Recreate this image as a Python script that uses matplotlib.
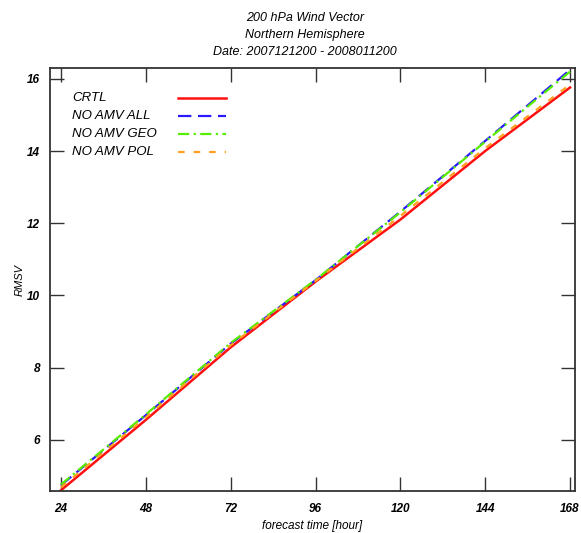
import matplotlib
matplotlib.use("Agg")
import matplotlib.pyplot as plt
from matplotlib.lines import Line2D

hours = [24, 48, 72, 96, 120, 144, 168]
crtl = [4.60, 6.55, 8.56, 10.38, 12.10, 14.00, 15.76]
no_amv_all = [4.74, 6.68, 8.66, 10.42, 12.32, 14.28, 16.25]
no_amv_geo = [4.76, 6.70, 8.68, 10.43, 12.30, 14.26, 16.20]
no_amv_pol = [4.68, 6.62, 8.62, 10.40, 12.20, 14.08, 15.84]
labels = ["CRTL", "NO AMV ALL", "NO AMV GEO", "NO AMV POL"]
xticks = [24, 48, 72, 96, 120, 144, 168]
yticks = [6, 8, 10, 12, 14, 16]

plt.rcParams['font.family'] = ['Liberation Sans', 'DejaVu Sans']

fig = plt.figure(figsize=(5.81, 5.33), dpi=100)
ax = fig.add_axes([50/581, 1-491/533, 525/581, 423/533])

series = [crtl, no_amv_all, no_amv_geo, no_amv_pol]
colors = ['#ff1010', '#2a1aff', '#55ee00', '#ffa020']
styles = ['-', (0, (6, 3)), (0, (5, 2, 1, 2)), (0, (3, 4))]
widths = [1.8, 1.6, 1.6, 1.6]
for s, c, ls, lw in zip(series, colors, styles, widths):
    ax.plot(hours, s, color=c, linestyle=ls, linewidth=lw)

ax.set_xlim(20.9, 169.4)
ax.set_ylim(4.58, 16.3)
ax.set_xticks(xticks)
ax.set_yticks(yticks)
ax.set_xticklabels([str(v) for v in xticks], fontsize=8.5, style='italic', weight='bold')
ax.set_yticklabels([str(v) for v in yticks], fontsize=8.5, style='italic', weight='bold')
ax.tick_params(axis='both', direction='in', length=10, width=1.0, color='#333333',
               top=True, right=True)
ax.tick_params(axis='x', pad=9)
ax.tick_params(axis='y', pad=7)
for sp in ax.spines.values():
    sp.set_color('#333333')
    sp.set_linewidth(1.3)

ax.set_xlabel("forecast time [hour]", fontsize=8.5, style='italic', labelpad=3)
ax.set_ylabel("RMSV", fontsize=8, style='italic', labelpad=2)

fig.text(0.525, 0.978, "200 hPa Wind Vector\nNorthern Hemisphere\nDate: 2007121200 - 2008011200",
         ha='center', va='top', fontsize=9, style='italic', linespacing=1.55)

# legend (labels left, line samples right)
row_y = [98, 116, 134, 152]
for lab, c, ls, lw, yp in zip(labels, colors, styles, widths, row_y):
    yf = 1 - yp/533
    fig.text(72/581, yf, lab, ha='left', va='center', fontsize=9.5, style='italic')
    fig.add_artist(Line2D([178/581, 226/581], [yf, yf], color=c, linestyle=ls,
                          linewidth=lw, transform=fig.transFigure))

fig.savefig("out.png", dpi=100)
